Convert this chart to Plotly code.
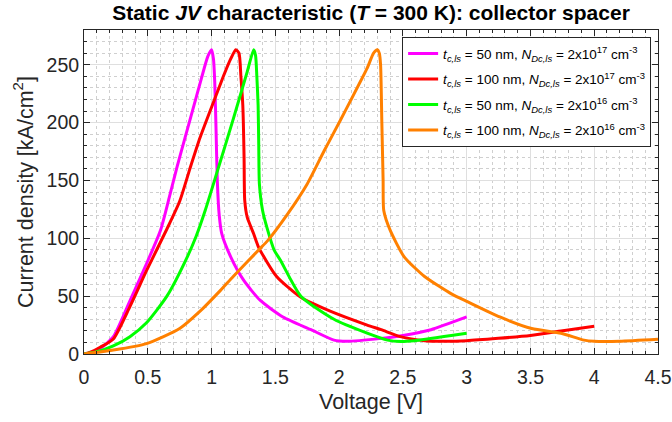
import plotly.graph_objects as go

# ---- data ----
v_m = [0, 0.05, 0.13, 0.23, 0.36, 0.49, 0.60, 0.67, 0.73, 0.80, 0.86, 0.92, 0.97, 1.00, 1.015, 1.025, 1.035, 1.045,
       1.06, 1.08, 1.15, 1.25, 1.38, 1.56, 1.78, 1.96, 2.06, 2.33, 2.50, 2.72, 3.00]
j_m = [0, 1, 5, 15, 46, 78, 107, 136, 162, 190, 214, 238, 257, 263, 255, 235, 195, 150,
       120, 104, 84, 64, 46.5, 32, 21, 12, 11, 13.5, 16, 21, 32]

v_r = [0, 0.05, 0.13, 0.23, 0.36, 0.49, 0.65, 0.75, 0.83, 0.91, 1.02, 1.10, 1.15, 1.19, 1.215, 1.23, 1.245,
       1.255, 1.26, 1.28, 1.33, 1.37, 1.51, 1.70, 1.93, 2.22, 2.33, 2.48, 2.67, 2.80, 3.00, 3.50, 3.74, 4.00]
j_r = [0, 1.5, 6, 13, 41, 72, 108, 132, 160, 187, 219, 242, 255, 263, 260, 240, 215,
       170, 133, 118, 104, 92, 67, 49, 37, 25, 21, 15, 11.5, 11, 11.5, 16, 19.8, 24]

v_g = [0, 0.10, 0.23, 0.36, 0.49, 0.65, 0.81, 0.88, 0.95, 1.04, 1.17, 1.28, 1.33, 1.345, 1.355, 1.365, 1.37,
       1.375, 1.40, 1.44, 1.49, 1.54, 1.70, 1.96, 2.22, 2.38, 2.48, 2.59, 2.88, 3.00]
j_g = [0, 2, 7, 15, 27, 50, 84, 102, 124, 156, 203, 244, 263, 258, 240, 215, 180,
       147, 124, 107, 90, 81, 50, 30, 18, 12, 10.8, 11.5, 16, 18]

v_o = [0, 0.23, 0.49, 0.75, 0.91, 1.07, 1.17, 1.37, 1.44, 1.59, 1.75, 1.88, 2.01, 2.09, 2.22, 2.27, 2.30,
       2.315, 2.325, 2.335, 2.345, 2.35, 2.40, 2.51, 2.67, 2.88, 3.01, 3.26, 3.51, 3.74, 3.92, 4.00, 4.20, 4.50]
j_o = [0, 3.4, 9, 22, 37, 55, 67, 90, 98, 120, 147, 175, 202, 219, 247, 260, 263,
       260, 250, 200, 150, 124, 107, 84, 67, 52, 45, 32, 22, 18, 12, 11, 11, 12.7]

names = [
    "<i>t</i><sub><i>c,ls</i></sub> = 50 nm, <i>N</i><sub><i>Dc,ls</i></sub> = 2x10<sup>17</sup> cm<sup>-3</sup>",
    "<i>t</i><sub><i>c,ls</i></sub> = 100 nm, <i>N</i><sub><i>Dc,ls</i></sub> = 2x10<sup>17</sup> cm<sup>-3</sup>",
    "<i>t</i><sub><i>c,ls</i></sub> = 50 nm, <i>N</i><sub><i>Dc,ls</i></sub> = 2x10<sup>16</sup> cm<sup>-3</sup>",
    "<i>t</i><sub><i>c,ls</i></sub> = 100 nm, <i>N</i><sub><i>Dc,ls</i></sub> = 2x10<sup>16</sup> cm<sup>-3</sup>",
]
colors = ["#FF00FF", "#FF0000", "#00FF00", "#FF8000"]
series = [(v_m, j_m), (v_r, j_r), (v_g, j_g), (v_o, j_o)]

FONT = "Liberation Sans, Arial, Helvetica, sans-serif"
TXT = "#262626"

fig = go.Figure()
for i, ((v, j), n, c) in enumerate(zip(series, names, colors)):
    fig.add_trace(go.Scatter(x=v, y=j, mode="lines", name=n, legendgroup=f"g{i}",
                             line=dict(color=c, width=3, shape="spline", smoothing=0.6)))

axis_common = dict(
    showline=True, linecolor=TXT, linewidth=1, mirror="allticks",
    ticks="inside", ticklen=6, tickcolor=TXT,
    showgrid=True, gridcolor="#dfdfdf", gridwidth=1,
    zeroline=False, automargin=False,
    tickfont=dict(family=FONT, size=19.5, color=TXT),
)

fig.update_xaxes(
    range=[0, 4.5], dtick=0.5, tick0=0, ticklabelstandoff=6,
    title=dict(text="Voltage [V]", font=dict(family=FONT, size=21.5, color=TXT), standoff=6),
    minor=dict(dtick=0.1, ticks="inside", ticklen=3, tickcolor=TXT,
               showgrid=True, gridcolor="#cfcfcf", griddash="dot", gridwidth=1),
    **axis_common,
)
fig.update_yaxes(
    range=[0, 280], dtick=50, tick0=0,
    title=dict(text="Current density [kA/cm<sup>2</sup>]", font=dict(family=FONT, size=21.5, color=TXT), standoff=7),
    minor=dict(dtick=10, ticks="inside", ticklen=3, tickcolor=TXT,
               showgrid=True, gridcolor="#cfcfcf", griddash="dot", gridwidth=1),
    **axis_common,
)

fig.update_layout(
    width=672, height=422,
    margin=dict(l=84, r=14, t=30, b=68),
    paper_bgcolor="white", plot_bgcolor="white",
    title=dict(text="<b>Static <i>JV</i> characteristic (<i>T</i> = 300 K): collector spacer</b>",
               x=(84 + 658) / 2 / 672, xanchor="center", y=0.988, yanchor="top",
               font=dict(family=FONT, size=21, color="black")),
    legend=dict(x=0.988, xanchor="right", y=0.978, yanchor="top",
                bgcolor="white", bordercolor=TXT, borderwidth=1, tracegroupgap=5,
                font=dict(family=FONT, size=13.5, color="black")),
    showlegend=True,
)

fig.write_html("out.html", config={"displayModeBar": False},
               post_script="document.body.style.margin='0px';")
